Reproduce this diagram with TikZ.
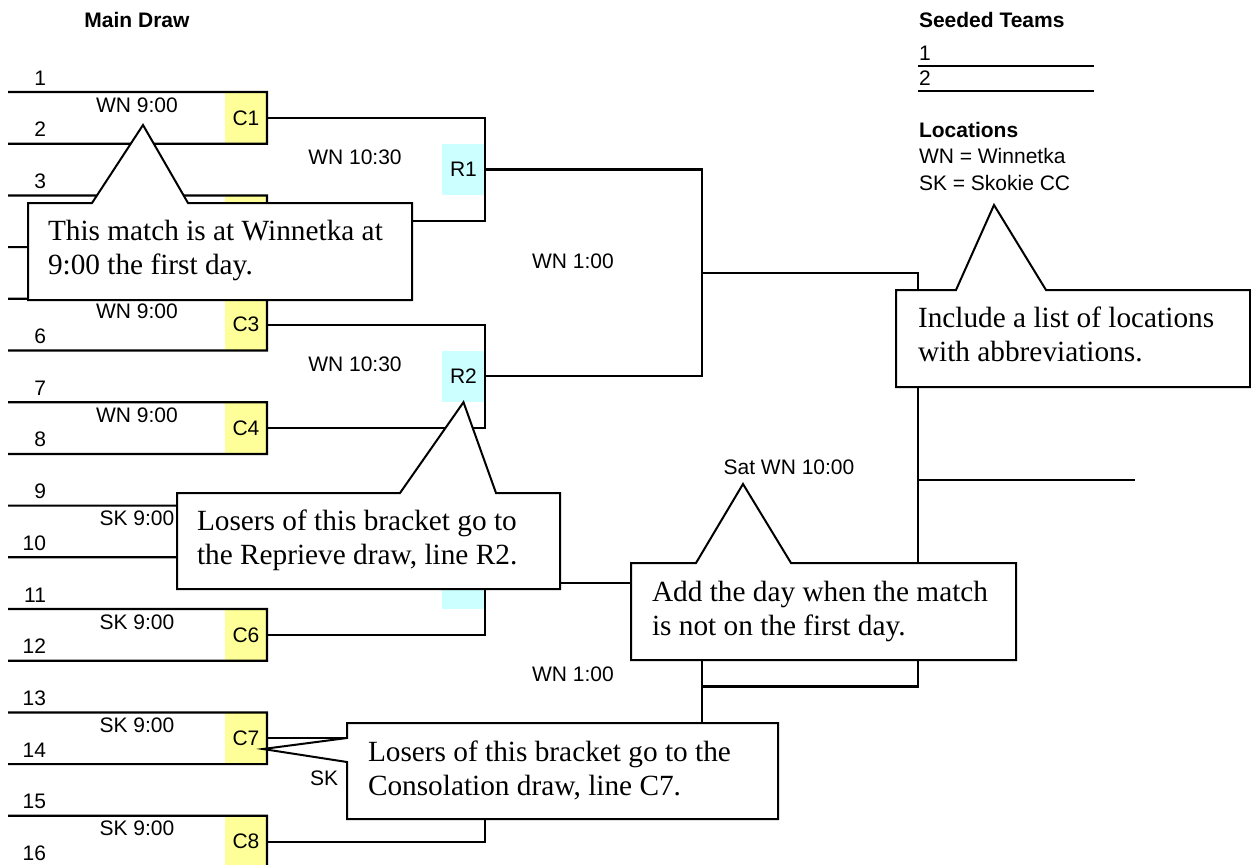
\documentclass[tikz,border=0pt]{standalone}
\usepackage{fontspec}
\setmainfont{Liberation Sans}
\newfontfamily\notefont{Liberation Serif}
\definecolor{matchyellow}{HTML}{FFFF99}
\definecolor{reprievecyan}{HTML}{CCFFFF}

\begin{document}
\begin{tikzpicture}[x=1pt,y=-1pt,line width=2.2pt,
	every node/.style={font=\fontsize{21}{25}\selectfont, inner sep=0pt, outer sep=0pt},
	cbox/.style={fill=matchyellow, minimum width=42pt, minimum height=51.7pt, anchor=north east},
	rbox/.style={fill=reprievecyan, minimum width=43pt, minimum height=51.7pt, anchor=north east},
	num/.style={anchor=base east},
	time/.style={anchor=base},
	head/.style={anchor=base west, font=\fontsize{21}{25}\selectfont\bfseries},
	note/.style={anchor=base west, align=left, font=\fontsize{29.3}{34}\notefont},
	bubble/.style={draw=black, fill=white, line width=2pt}]
		\useasboundingbox (0,0) rectangle (1251,865);

		\node[head, anchor=base] (main) at (137,27) {Main Draw};

		\coordinate (p1) at (8,92);
		\coordinate (p2) at (8,143.7);
		\coordinate (p3) at (8,195.4);
		\coordinate (p4) at (8,247.1);
		\coordinate (p5) at (8,298.8);
		\coordinate (p6) at (8,350.5);
		\coordinate (p7) at (8,402.2);
		\coordinate (p8) at (8,453.9);
		\coordinate (p9) at (8,505.6);
		\coordinate (p10) at (8,557.3);
		\coordinate (p11) at (8,609);
		\coordinate (p12) at (8,660.7);
		\coordinate (p13) at (8,712.4);
		\coordinate (p14) at (8,764.1);
		\coordinate (p15) at (8,815.8);
		\coordinate (p16) at (8,867.5);

		\node[num] (n1) at (46,85) {1};
		\node[num] (n2) at (46,136.7) {2};
		\node[num] (n3) at (46,188.4) {3};
		\node[num] (n6) at (46,343.5) {6};
		\node[num] (n7) at (46,395.2) {7};
		\node[num] (n8) at (46,446.9) {8};
		\node[num] (n9) at (46,498.6) {9};
		\node[num] (n10) at (46,550.3) {10};
		\node[num] (n11) at (46,602) {11};
		\node[num] (n12) at (46,653.7) {12};
		\node[num] (n13) at (46,705.4) {13};
		\node[num] (n14) at (46,757.1) {14};
		\node[num] (n15) at (46,808.8) {15};
		\node[num] (n16) at (46,860.5) {16};

		\node[cbox] (c1) at (267,92) {C1};
		\node[cbox] (c2) at (267,195.4) {};
		\node[cbox] (c3) at (267,298.8) {C3};
		\node[cbox] (c4) at (267,402.2) {C4};
		\node[cbox] (c5) at (267,505.6) {};
		\node[cbox] (c6) at (267,609) {C6};
		\node[cbox] (c7) at (267,712.4) {C7};
		\node[cbox] (c8) at (267,815.8) {C8};

		\node[rbox] (r1) at (485,143.7) {R1};
		\node[rbox] (r2) at (485,350.5) {R2};
		\node[rbox] (r3) at (485,557.3) {};
		\node[rbox] (r4) at (485,764.1) {};

		\draw (p1) -- (c1.north east) -- (c1.south east) -- (p2);
		\draw (p3) -- (c2.north east) -- (c2.south east) -- (p4);
		\draw (p5) -- (c3.north east) -- (c3.south east) -- (p6);
		\draw (p7) -- (c4.north east) -- (c4.south east) -- (p8);
		\draw (p9) -- (c5.north east) -- (c5.south east) -- (p10);
		\draw (p11) -- (c6.north east) -- (c6.south east) -- (p12);
		\draw (p13) -- (c7.north east) -- (c7.south east) -- (p14);
		\draw (p15) -- (c8.north east) -- (c8.south east) -- (p16);

		\node[time] (t1) at (137,112) {WN 9:00};
		\node[time] (t3) at (137,318.8) {WN 9:00};
		\node[time] (t4) at (137,422.2) {WN 9:00};
		\node[time] (t5) at (137,525.6) {SK 9:00};
		\node[time] (t6) at (137,629) {SK 9:00};
		\node[time] (t7) at (137,732.4) {SK 9:00};
		\node[time] (t8) at (137,835.8) {SK 9:00};

		\node[time] (q1) at (355,164.7) {WN 10:30};
		\node[time] (q2) at (355,371.5) {WN 10:30};
		\node[anchor=base west] (q4) at (310,785.1) {SK};

		\draw (c1.east) -| (r1.east) |- (c2.east);
		\draw (c3.east) -| (r2.east) |- (c4.east);
		\draw (c5.east) -| (r3.east) |- (c6.east);
		\draw (c7.east) -| (r4.east) |- (c8.east);

		\coordinate (s1) at (702,273);
		\coordinate (s2) at (702,686.5);
		\draw (r1.east) -| (s1) |- (r2.east);
		\draw (r3.east) -| (s2) |- (r4.east);
		\node[time] (h1) at (573,268) {WN 1:00};
		\node[time] (h2) at (573,681) {WN 1:00};

		\coordinate (f) at (918,479.75);
		\coordinate (w) at (1135,479.75);
		\draw (s1) -| (f) |- (s2);
		\draw (f) -- (w);
		\node[time] (fin) at (789,474.5) {Sat WN 10:00};

		\node[head] (seed) at (919,27) {Seeded Teams};
		\node[anchor=base west] (sd1) at (919,60) {1};
		\node[anchor=base west] (sd2) at (919,85) {2};
		\draw (918,66) -- (1094,66);
		\draw (918,91) -- (1094,91);
		\node[head] (loc) at (919,137) {Locations};
		\node[anchor=base west] (wn) at (919,163) {WN = Winnetka};
		\node[anchor=base west] (sk) at (919,190) {SK = Skokie CC};

		\draw[bubble] (28,203) -- (92,203) -- (143,125) -- (188,203) -- (412,203) -- (412,300) -- (28,300) -- cycle;
		\node[note] (note1) at (48,274) {This match is at Winnetka at\\9:00 the first day.};

		\draw[bubble] (177,493) -- (400,493) -- (r2.south) -- (496,493) -- (560,493) -- (560,589) -- (177,589) -- cycle;
		\node[note] (note2) at (197,564) {Losers of this bracket go to\\the Reprieve draw, line R2.};

		\draw[bubble] (631,563) -- (696,563) -- (743,484) -- (791,563) -- (1016,563) -- (1016,660) -- (631,660) -- cycle;
		\node[note] (note3) at (652,635) {Add the day when the match\\is not on the first day.};

		\draw[bubble] (896,290) -- (956,290) -- (994,205) -- (1046,290) -- (1250,290) -- (1250,387) -- (896,387) -- cycle;
		\node[note] (note4) at (918,361) {Include a list of locations\\with abbreviations.};

		\draw[bubble] (347,723) -- (778,723) -- (778,819) -- (347,819) -- (347,762) -- (263,749) -- (347,738) -- cycle;
		\node[note] (note5) at (368,795) {Losers of this bracket go to the\\Consolation draw, line C7.};
	\end{tikzpicture}
\end{document}
